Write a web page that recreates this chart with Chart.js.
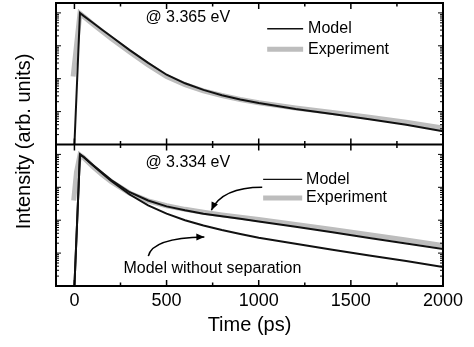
<!DOCTYPE html>
<html>
<head>
<meta charset="utf-8">
<title>Intensity vs time</title>
<script src="https://cdn.jsdelivr.net/npm/chart.js@4.4.1/dist/chart.umd.min.js"></script>
<style>
  html, body { margin: 0; padding: 0; background: #fff; }
  #wrap { width: 474px; height: 347px; }
</style>
</head>
<body>
<div id="wrap"><canvas id="chart" width="474" height="347"></canvas></div>
<script>
// time axis (ps), shared by every series
const timePs = [-7, -4, 0, 11, 30, 50, 100, 150, 200, 300, 400, 500, 600, 700, 800, 900, 1000, 1200, 1400, 1600, 1800, 2000];

// upper panel, @ 3.365 eV
const modelTop = [null, null, 1e-4, null, 1.0, 0.813, 0.501, 0.309, 0.191, 0.0741, 0.0302, 0.0132, 0.00724, 0.00457, 0.00316, 0.00234, 0.00182, 0.00120, 0.000851, 0.000589, 0.000398, 0.000251];
const experimentTop = [0.0117, null, null, 0.1, 0.955, 0.776, 0.457, 0.275, 0.166, 0.0646, 0.0263, 0.0117, 0.00661, 0.00427, 0.00309, 0.00234, 0.00186, 0.00129, 0.000933, 0.000676, 0.000479, 0.000316];

// lower panel, @ 3.334 eV
const modelBottom = [null, null, 1e-4, null, 1.0, 0.832, 0.479, 0.282, 0.166, 0.0708, 0.0398, 0.0263, 0.0200, 0.0158, 0.0132, 0.0110, 0.00912, 0.00631, 0.00427, 0.00288, 0.00195, 0.00132];
const experimentBottom = [null, 0.0398, null, 0.282, 0.955, 0.794, 0.427, 0.245, 0.148, 0.0661, 0.0389, 0.0275, 0.0214, 0.0174, 0.0145, 0.0123, 0.0105, 0.00741, 0.00525, 0.00363, 0.00251, 0.00170];
const modelNoSeparation = [null, null, 1e-4, null, 1.0, 0.832, 0.468, 0.269, 0.155, 0.0603, 0.0282, 0.0158, 0.0100, 0.00692, 0.00501, 0.00380, 0.00295, 0.00191, 0.00126, 0.000851, 0.000575, 0.000380];

// ticks
const xTickLabels = [0, 500, 1000, 1500, 2000];
const xMinorTicks = [250, 750, 1250, 1750];
const yDecades = [1e-4, 1e-3, 1e-2, 1e-1, 1];

const FONT = 'Liberation Sans, Arial, Helvetica, sans-serif';
const GRAY = '#bdbdbd';
const BLACK = '#111';

Chart.defaults.font.family = FONT;
Chart.defaults.color = '#000';

const series = vals => timePs.map((t, i) => ({ x: t, y: vals[i] }));

function line(ctx, x1, y1, x2, y2) {
  ctx.beginPath();
  ctx.moveTo(x1, y1);
  ctx.lineTo(x2, y2);
  ctx.stroke();
}

// curved arrow, tip at the end point
function arrow(ctx, sx, sy, cx, cy, ex, ey) {
  ctx.beginPath();
  ctx.moveTo(sx, sy);
  ctx.quadraticCurveTo(cx, cy, ex, ey);
  ctx.stroke();
  const ang = Math.atan2(ey - cy, ex - cx);
  const len = 8, half = 3.5;
  ctx.beginPath();
  ctx.moveTo(ex, ey);
  ctx.lineTo(ex - len * Math.cos(ang) + half * Math.sin(ang), ey - len * Math.sin(ang) - half * Math.cos(ang));
  ctx.lineTo(ex - len * Math.cos(ang) - half * Math.sin(ang), ey - len * Math.sin(ang) + half * Math.cos(ang));
  ctx.closePath();
  ctx.fill();
}

const framePlugin = {
  id: 'frame',
  afterDatasetsDraw(chart) {
    const { ctx, chartArea: a, scales } = chart;
    const sx = scales.x, yt = scales.yTop, yb = scales.yBot;
    const mid = yt.bottom;
    ctx.save();
    ctx.strokeStyle = '#000';
    ctx.fillStyle = '#000';
    ctx.lineWidth = 2;
    ctx.strokeRect(a.left, a.top, a.right - a.left, a.bottom - a.top);
    line(ctx, a.left, mid, a.right, mid);

    // x ticks
    ctx.lineWidth = 1.5;
    const xt = (v, len) => {
      const p = sx.getPixelForValue(v);
      line(ctx, p, a.top, p, a.top + len);
      line(ctx, p, mid - len, p, mid + len);
      line(ctx, p, a.bottom, p, a.bottom - len);
    };
    xTickLabels.forEach(v => xt(v, 6));
    xMinorTicks.forEach(v => xt(v, 3.5));

    // y ticks (log), both panels, both sides
    ctx.lineWidth = 1;
    [yt, yb].forEach(s => {
      yDecades.forEach(d => {
        const p = s.getPixelForValue(d);
        line(ctx, a.left, p, a.left + 5, p);
        line(ctx, a.right, p, a.right - 5, p);
        for (let m = 2; m <= 9; m++) {
          const v = d * m;
          if (v >= s.max) break;
          const q = s.getPixelForValue(v);
          line(ctx, a.left, q, a.left + 3, q);
          line(ctx, a.right, q, a.right - 3, q);
        }
      });
    });

    // panel labels
    ctx.font = '16px ' + FONT;
    ctx.textBaseline = 'middle';
    ctx.textAlign = 'left';
    ctx.fillText('@ 3.365 eV', sx.getPixelForValue(385), yt.getPixelForValue(0.71));
    ctx.fillText('@ 3.334 eV', sx.getPixelForValue(385), yb.getPixelForValue(0.575));

    // legends
    const legend = (s, x1, x2, xt, yModel, yExp) => {
      ctx.strokeStyle = BLACK;
      ctx.lineWidth = 1.3;
      line(ctx, sx.getPixelForValue(x1), s.getPixelForValue(yModel), sx.getPixelForValue(x2), s.getPixelForValue(yModel));
      ctx.strokeStyle = GRAY;
      ctx.lineWidth = 5;
      line(ctx, sx.getPixelForValue(x1), s.getPixelForValue(yExp), sx.getPixelForValue(x2), s.getPixelForValue(yExp));
      ctx.fillText('Model', sx.getPixelForValue(xt), s.getPixelForValue(yModel));
      ctx.fillText('Experiment', sx.getPixelForValue(xt), s.getPixelForValue(yExp));
    };
    legend(yt, 1046, 1241, 1268, 0.33, 0.078);
    legend(yb, 1024, 1236, 1257, 0.174, 0.047);

    ctx.fillText('Model without separation', sx.getPixelForValue(266), yb.getPixelForValue(3.3e-4));

    // arrows
    ctx.strokeStyle = '#000';
    ctx.lineWidth = 1.5;
    arrow(ctx,
      sx.getPixelForValue(1019), yb.getPixelForValue(0.1),
      sx.getPixelForValue(802), yb.getPixelForValue(0.1),
      sx.getPixelForValue(743), yb.getPixelForValue(0.02));
    arrow(ctx,
      sx.getPixelForValue(401), yb.getPixelForValue(8.1e-4),
      sx.getPixelForValue(423), yb.getPixelForValue(0.0029),
      sx.getPixelForValue(705), yb.getPixelForValue(0.0031));

    // y title
    ctx.font = '20px ' + FONT;
    ctx.textAlign = 'center';
    ctx.translate(24, (a.top + a.bottom) / 2 - 3);
    ctx.rotate(-Math.PI / 2);
    ctx.fillText('Intensity (arb. units)', 0, 0);
    ctx.restore();
  }
};

const panelScale = weight => ({
  type: 'logarithmic',
  min: 1e-4,
  max: 2,
  position: 'left',
  stack: 'panels',
  stackWeight: 1,
  weight: weight,
  ticks: { display: false },
  grid: { display: false, drawTicks: false },
  border: { display: false },
  afterFit: s => { s.width = 56; }
});

new Chart(document.getElementById('chart'), {
  type: 'line',
  data: {
    datasets: [
      { label: 'Model', data: series(modelTop), yAxisID: 'yTop', borderColor: BLACK, borderWidth: 2, order: 1 },
      { label: 'Experiment', data: series(experimentTop), yAxisID: 'yTop', borderColor: GRAY, borderWidth: 5, order: 2 },
      { label: 'Model', data: series(modelBottom), yAxisID: 'yBot', borderColor: BLACK, borderWidth: 2, order: 1 },
      { label: 'Model without separation', data: series(modelNoSeparation), yAxisID: 'yBot', borderColor: BLACK, borderWidth: 2, order: 1 },
      { label: 'Experiment', data: series(experimentBottom), yAxisID: 'yBot', borderColor: GRAY, borderWidth: 5, order: 2 }
    ]
  },
  options: {
    responsive: false,
    animation: false,
    spanGaps: true,
    elements: { point: { radius: 0 }, line: { tension: 0, borderCapStyle: 'butt' } },
    layout: { padding: { left: 0, right: 31, top: 3, bottom: 0 } },
    plugins: { legend: { display: false }, tooltip: { enabled: false } },
    scales: {
      x: {
        type: 'linear',
        min: -100,
        max: 2000,
        position: 'bottom',
        afterBuildTicks: s => { s.ticks = xTickLabels.map(v => ({ value: v })); },
        ticks: { color: '#000', font: { size: 18 }, padding: 4, maxRotation: 0, autoSkip: false, callback: v => String(v) },
        grid: { display: false, drawTicks: false },
        border: { display: false },
        title: { display: true, text: 'Time (ps)', color: '#000', font: { size: 20 }, padding: { top: 0, bottom: 10 } },
        afterFit: s => { s.height = 61; }
      },
      yTop: panelScale(2),
      yBot: panelScale(1)
    }
  },
  plugins: [framePlugin]
});
</script>
</body>
</html>
